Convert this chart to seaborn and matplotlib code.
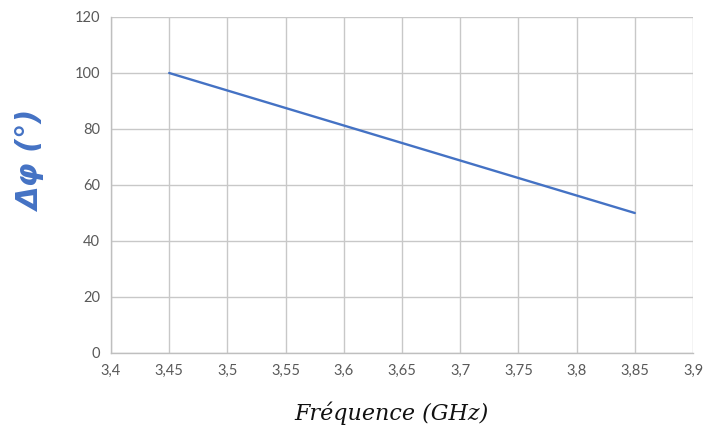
import matplotlib
matplotlib.use("Agg")
import matplotlib.pyplot as plt
import matplotlib.ticker as mtick
import seaborn as sns
import pandas as pd

# Data
freq_ghz = [3.45, 3.50, 3.55, 3.60, 3.65, 3.70, 3.75, 3.80, 3.85]
delta_phi = [100.0, 93.75, 87.5, 81.25, 75.0, 68.75, 62.5, 56.25, 50.0]
x_ticks = [3.40, 3.45, 3.50, 3.55, 3.60, 3.65, 3.70, 3.75, 3.80, 3.85, 3.90]
y_ticks = [0, 20, 40, 60, 80, 100, 120]

df = pd.DataFrame({"freq": freq_ghz, "dphi": delta_phi})

sns.set_theme(style="white")
plt.rcParams["font.family"] = ["Lato", "DejaVu Sans"]

fig = plt.figure(figsize=(7.05, 4.32), dpi=100)
ax = fig.add_axes([111 / 705, 1 - 353 / 432, (693 - 111) / 705, (353 - 17) / 432])

sns.lineplot(data=df, x="freq", y="dphi", ax=ax, color="#4472C4", linewidth=1.7)

ax.set_xlim(3.4, 3.9)
ax.set_ylim(0, 120)
ax.set_xticks(x_ticks)
ax.set_yticks(y_ticks)

# comma decimal separator, as in the original
def fmt_comma(v, pos):
    s = f"{v:.2f}".rstrip("0").rstrip(".")
    return s.replace(".", ",")

ax.xaxis.set_major_formatter(mtick.FuncFormatter(fmt_comma))
ax.tick_params(axis="both", labelsize=10.5, colors="#595959", length=0, pad=8)

ax.grid(True, color="#c8c8c8", linewidth=1.0)
for side in ["top", "right"]:
    ax.spines[side].set_visible(False)
for side in ["left", "bottom"]:
    ax.spines[side].set_color("#bfbfbf")
    ax.spines[side].set_linewidth(1.0)

ax.set_xlabel("")
ax.set_ylabel("")
fig.text(391 / 705, 1 - 413 / 432, "Fréquence (GHz)", ha="center", va="center",
         fontsize=16, style="italic", family="DejaVu Serif", color="#111111")
fig.text(32 / 705, 1 - 161 / 432, "Δφ (°)", ha="center", va="center", rotation=90,
         fontsize=22, style="italic", weight="bold", family="DejaVu Sans",
         color="#4472C4")

fig.savefig("out.png", dpi=100)
